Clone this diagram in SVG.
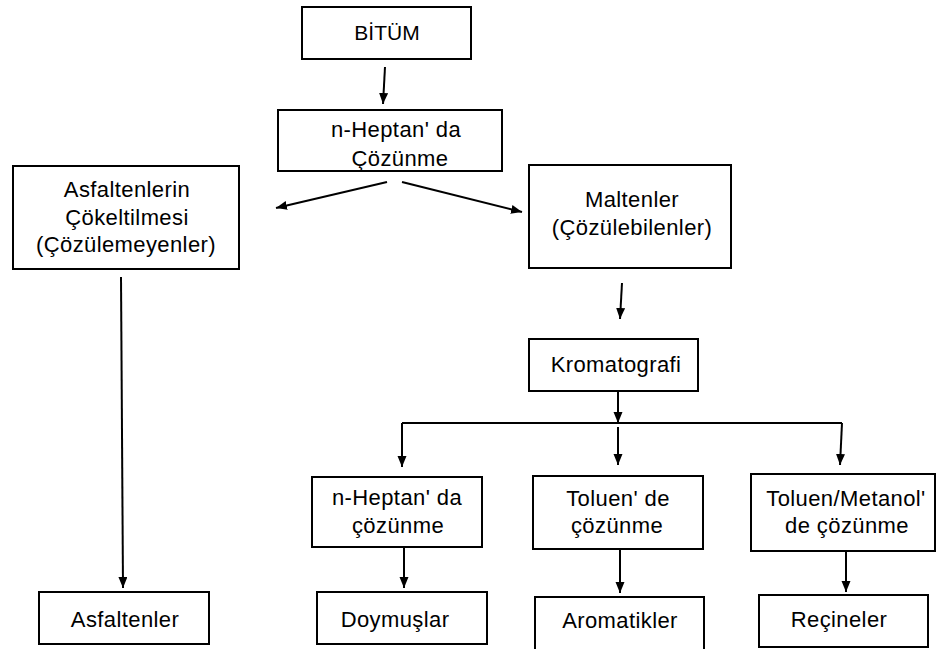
<svg xmlns="http://www.w3.org/2000/svg" width="937" height="649" viewBox="0 0 937 649">
<defs>
<marker id="ah" markerUnits="userSpaceOnUse" markerWidth="12" markerHeight="10" refX="11" refY="4.5" orient="auto">
<path d="M0,0 L11,4.5 L0,9 z" fill="#000"/>
</marker>
<style>
.box{fill:#fff;stroke:#000;stroke-width:2}
.t{font-family:"Liberation Sans",Arial,sans-serif;font-size:22px;letter-spacing:0.4px;fill:#000;text-anchor:middle}
.c{fill:none;stroke:#000;stroke-width:2}
.a{fill:none;stroke:#000;stroke-width:2;marker-end:url(#ah)}
</style>
</defs>
<rect width="937" height="649" fill="#fff"/>
<g id="connectors">
<line class="a" x1="385" y1="67" x2="383" y2="104"/>
<line class="a" x1="387" y1="182" x2="276" y2="208"/>
<line class="a" x1="402" y1="182" x2="522" y2="212"/>
<line class="a" x1="121" y1="277" x2="123" y2="588"/>
<line class="a" x1="622" y1="283" x2="620" y2="319"/>
<line class="a" x1="618" y1="391" x2="618" y2="423"/>
<polyline class="c" points="402,423 842,423"/>
<line class="a" x1="402" y1="423" x2="402" y2="467"/>
<line class="a" x1="618" y1="427" x2="618" y2="465"/>
<line class="a" x1="842" y1="423" x2="840" y2="465"/>
<line class="a" x1="404" y1="548" x2="404" y2="588"/>
<line class="a" x1="620" y1="549" x2="620" y2="593"/>
<line class="a" x1="846" y1="551" x2="846" y2="592"/>
</g>
<g id="bitum">
<rect class="box" x="302" y="7" width="169" height="52"/>
<text class="t" x="387" y="40" style="font-size:21px;letter-spacing:0px">BİTÜM</text>
</g>
<g id="heptan-cozunme">
<rect class="box" x="278" y="110" width="224" height="61"/>
<text class="t" x="396" y="137">n-Heptan' da</text>
<text class="t" x="400" y="166">Çözünme</text>
</g>
<g id="asfaltenlerin-cokeltilmesi">
<rect class="box" x="13" y="166" width="226" height="103"/>
<text class="t" x="127" y="197">Asfaltenlerin</text>
<text class="t" x="127" y="225">Çökeltilmesi</text>
<text class="t" x="126" y="252">(Çözülemeyenler)</text>
</g>
<g id="maltenler">
<rect class="box" x="529" y="165" width="202" height="103"/>
<text class="t" x="632" y="207">Maltenler</text>
<text class="t" x="632" y="235">(Çözülebilenler)</text>
</g>
<g id="kromatografi">
<rect class="box" x="529" y="339" width="169" height="52"/>
<text class="t" x="616" y="372">Kromatografi</text>
</g>
<g id="heptan-cozunme-2">
<rect class="box" x="312" y="477" width="170" height="70"/>
<text class="t" x="397" y="505">n-Heptan' da</text>
<text class="t" x="398" y="533">çözünme</text>
</g>
<g id="toluen-cozunme">
<rect class="box" x="533" y="476" width="170" height="73"/>
<text class="t" x="618" y="506">Toluen' de</text>
<text class="t" x="617" y="533">çözünme</text>
</g>
<g id="toluen-metanol-cozunme">
<rect class="box" x="751" y="474" width="184" height="77"/>
<text class="t" x="846" y="506">Toluen/Metanol'</text>
<text class="t" x="847" y="533">de çözünme</text>
</g>
<g id="asfaltenler">
<rect class="box" x="39" y="592" width="170" height="52"/>
<text class="t" x="125" y="627">Asfaltenler</text>
</g>
<g id="doymuslar">
<rect class="box" x="317" y="592" width="170" height="52"/>
<text class="t" x="395" y="627">Doymuşlar</text>
</g>
<g id="aromatikler">
<rect class="box" x="535" y="597" width="169" height="60"/>
<text class="t" x="620" y="628">Aromatikler</text>
</g>
<g id="recineler">
<rect class="box" x="759" y="595" width="169" height="52"/>
<text class="t" x="839" y="627">Reçineler</text>
</g>
</svg>
